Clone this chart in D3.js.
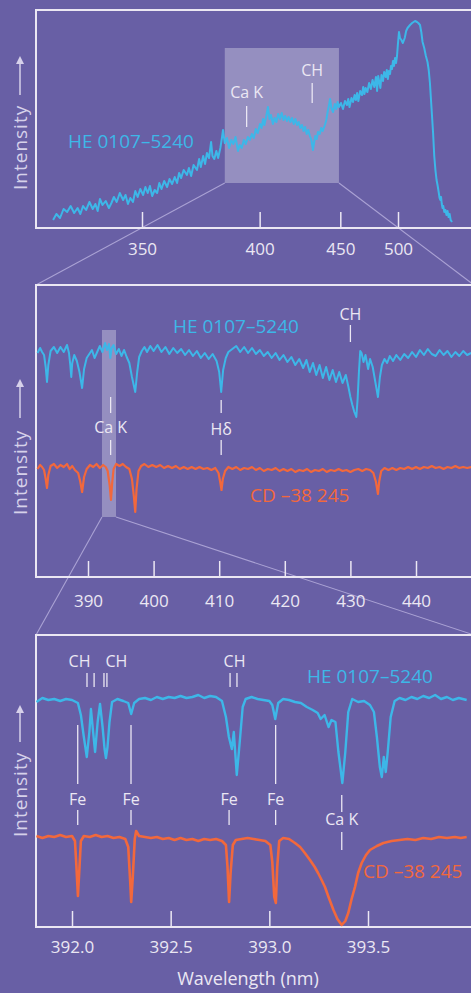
<!DOCTYPE html>
<html>
<head>
<meta charset="utf-8">
<script src="https://cdn.jsdelivr.net/npm/d3@7"></script>
<style>
  body { margin: 0; background: #685fa5; }
  svg { display: block; }
  text { font-family: "Open Sans", sans-serif; }
</style>
</head>
<body>
<div id="chart"></div>
<script>
// Low resolution spectrum of HE 0107-5240, [wavelength nm, intensity].
var heOverview = [
  [322.6, 8], [323.5, 14], [324.5, 10], [325.5, 19], [326.5, 16], [327.5, 22], [328.5, 15],
  [329.5, 20], [330.3, 14], [331.1, 22], [332, 18], [333, 26], [334, 19], [334.8, 24],
  [335.5, 17], [336.2, 29], [337, 23], [338, 27], [339, 20], [339.8, 25], [340.6, 31],
  [341.5, 26], [342.5, 35], [343.6, 28], [344.4, 33], [345.2, 24], [346, 30], [346.9, 26],
  [347.7, 37], [348.5, 31], [349.4, 39], [350.4, 33], [351.2, 41], [352, 35], [352.8, 42],
  [353.6, 32], [354.5, 38], [355.4, 35], [356.2, 45], [357, 39], [358, 47], [359.1, 41],
  [360, 49], [361, 44], [362, 51], [362.9, 45], [363.7, 55], [364.5, 50], [365.5, 58],
  [366.8, 53], [367.6, 60], [368.5, 52], [369.5, 63], [370.9, 58], [371.8, 69], [372.5, 61],
  [373.5, 72], [374.3, 64], [375.1, 75], [376, 70], [376.9, 86], [377.5, 72], [378.3, 69],
  [379.2, 77], [380, 70], [381, 80], [381.7, 90], [382.2, 98], [383, 85], [384, 90],
  [385, 80], [386, 88], [387, 84], [388, 91], [389.2, 77], [390, 83], [391, 80], [392, 88],
  [393, 84], [394, 91], [395, 88], [396, 94], [397, 90], [398, 99], [399, 95], [400.2, 104],
  [401, 100], [401.8, 109], [402.5, 103], [403.3, 110], [404.4, 121], [405.2, 109], [406, 113],
  [407.1, 104], [408, 110], [409, 106], [410, 114], [411, 109], [412, 115], [413, 108],
  [414, 112], [415, 107], [416, 111], [417, 106], [418, 110], [419, 104], [420, 109],
  [421, 103], [422, 106], [423, 100], [424, 103], [425, 97], [426, 101], [427, 94], [428, 98],
  [429, 92], [430, 88], [431, 78], [431.8, 86], [432.5, 92], [433.5, 89], [434.3, 96],
  [435.5, 94], [436.5, 100], [437.5, 97], [439, 103], [440, 108], [441, 117], [442, 124],
  [442.6, 129], [443.5, 120], [444.7, 116], [446, 124], [447, 119], [448, 126], [449, 121],
  [450.5, 125], [452, 119], [453.5, 127], [455, 123], [456, 129], [457, 121], [458.5, 130],
  [459.7, 126], [461, 133], [462, 128], [463, 135], [464, 127], [465.5, 137], [467, 133],
  [468, 141], [469, 134], [470, 140], [471.5, 136], [473, 145], [474.5, 139], [476, 148],
  [477.5, 141], [479, 151], [480, 137], [481, 152], [482, 146], [483, 140], [484, 153],
  [485.4, 147], [486.5, 156], [488, 151], [489, 158], [490, 149], [491, 157], [492.1, 154],
  [493, 162], [494, 159], [495, 167], [496, 162], [497, 170], [498, 165], [499, 172],
  [500, 185], [501, 196], [502, 190], [503.5, 188], [505, 185], [507, 190], [508.5, 197],
  [510, 200], [512.7, 203], [515, 205], [518.3, 207], [520.5, 206], [522, 205], [524, 203],
  [525.5, 196], [527, 186], [529, 180], [531, 172], [533, 166], [534.5, 158], [536, 145],
  [538, 120], [540, 95], [541.5, 72], [543, 58], [544.5, 48], [546, 42], [547.5, 35],
  [548.5, 30], [549.5, 28], [550.5, 31], [551.5, 24], [552.5, 20], [553.5, 22], [555, 16],
  [556.5, 18], [558, 13], [559.5, 17], [561, 11], [562.5, 14], [564, 8], [566, 6]
];

// Medium resolution, 382-448 nm.
var heMid = [
  [382.3, 224], [382.7, 229], [383.0, 225], [383.3, 222], [383.55, 210], [383.75, 195], [383.95, 212],
  [384.3, 226], [384.8, 230], [385.3, 224], [385.8, 230], [386.3, 225], [386.8, 232], [387.1, 224],
  [387.3, 212], [387.45, 200], [387.6, 214], [387.9, 222], [388.3, 216], [388.7, 205], [389.1, 189],
  [389.4, 208], [389.8, 219], [390.2, 223], [390.6, 227], [391.0, 219], [391.4, 225], [391.8, 231],
  [392.2, 225], [392.6, 234], [392.9, 227], [393.2, 233], [393.4, 219], [393.6, 229], [393.9, 232],
  [394.3, 223], [394.7, 228], [395.1, 221], [395.5, 227], [395.9, 220], [396.3, 214], [396.7, 200],
  [397.2, 185], [397.5, 205], [397.8, 220], [398.2, 226], [398.6, 230], [399.0, 225], [399.5, 231],
  [400.0, 226], [400.6, 232], [401.2, 225], [401.8, 230], [402.4, 223], [403.0, 229], [403.6, 224],
  [404.2, 228], [404.8, 222], [405.4, 227], [406.0, 221], [406.6, 226], [407.2, 219], [407.8, 224],
  [408.4, 218], [409.0, 223], [409.6, 216], [410.0, 205], [410.3, 185], [410.6, 207], [411.0, 219],
  [411.4, 225], [412.0, 228], [412.6, 231], [413.2, 225], [413.8, 230], [414.4, 224], [415.0, 229],
  [415.6, 223], [416.2, 227], [416.8, 221], [417.4, 225], [418.0, 219], [418.6, 224], [419.2, 217],
  [419.8, 222], [420.4, 215], [421.0, 220], [421.6, 212], [422.2, 218], [422.8, 209], [423.3, 217],
  [423.8, 205], [424.3, 214], [424.8, 202], [425.3, 212], [425.8, 199], [426.3, 210], [426.8, 197],
  [427.3, 207], [427.8, 195], [428.3, 205], [428.8, 194], [429.3, 202], [429.7, 190], [430.0, 180],
  [430.3, 172], [430.6, 165], [430.9, 160], [431.1, 178], [431.3, 205], [431.5, 226], [431.7, 224],
  [432.0, 215], [432.3, 222], [432.7, 208], [433.0, 218], [433.4, 210], [433.8, 195], [434.2, 180],
  [434.5, 200], [434.8, 212], [435.2, 218], [435.6, 214], [436.0, 221], [436.5, 216], [437.0, 222],
  [437.6, 217], [438.2, 223], [438.8, 219], [439.4, 225], [440.0, 220], [440.6, 227], [441.2, 222],
  [441.8, 228], [442.4, 223], [443.0, 221], [443.6, 227], [444.2, 222], [444.8, 226], [445.4, 220],
  [446.0, 225], [446.6, 221], [447.2, 226], [447.8, 222], [448.4, 224]
];

var cdMid = [
  [382.3, 108], [382.7, 112], [383.0, 110], [383.3, 107], [383.55, 98], [383.75, 89], [383.95, 102],
  [384.3, 111], [384.8, 113], [385.3, 109], [385.8, 112], [386.3, 110], [386.8, 113], [387.2, 108],
  [387.6, 111], [388.0, 107], [388.5, 104], [388.8, 96], [389.1, 85], [389.4, 100], [389.8, 108],
  [390.3, 112], [390.8, 110], [391.3, 113], [391.8, 109], [392.3, 112], [392.7, 110], [393.0, 106],
  [393.3, 92], [393.5, 77], [393.7, 95], [393.9, 108], [394.3, 113], [394.8, 111], [395.3, 113],
  [395.8, 110], [396.3, 108], [396.7, 98], [397.0, 80], [397.2, 65], [397.4, 88], [397.7, 106],
  [398.1, 111], [398.6, 113], [399.2, 110], [399.8, 112], [400.4, 110], [401.0, 112], [401.6, 109],
  [402.2, 111], [402.8, 109], [403.4, 111], [404.0, 108], [404.6, 110], [405.2, 108], [405.8, 110],
  [406.4, 108], [407.0, 110], [407.6, 108], [408.2, 109], [408.8, 107], [409.4, 109], [409.9, 104],
  [410.15, 95], [410.35, 87], [410.55, 98], [410.9, 106], [411.4, 110], [412.0, 108], [412.6, 110],
  [413.2, 107], [413.8, 109], [414.4, 108], [415.0, 110], [415.6, 107], [416.2, 109], [416.8, 106],
  [417.4, 108], [418.0, 107], [418.6, 109], [419.2, 106], [419.8, 108], [420.4, 106], [421.0, 108],
  [421.6, 105], [422.2, 107], [422.8, 106], [423.4, 108], [424.0, 105], [424.6, 107], [425.2, 106],
  [425.8, 108], [426.4, 105], [427.0, 107], [427.6, 106], [428.2, 108], [428.8, 106], [429.4, 107],
  [430.0, 105], [430.6, 107], [431.2, 108], [431.8, 106], [432.4, 108], [433.0, 107], [433.5, 104],
  [433.9, 95], [434.2, 83], [434.4, 96], [434.7, 106], [435.2, 109], [435.8, 107], [436.4, 109],
  [437.0, 107], [437.6, 109], [438.2, 108], [438.8, 110], [439.4, 108], [440.0, 110], [440.6, 108],
  [441.2, 110], [441.8, 109], [442.4, 111], [443.0, 109], [443.6, 110], [444.2, 108], [444.8, 110],
  [445.4, 109], [446.0, 111], [446.6, 109], [447.2, 110], [447.8, 109], [448.4, 110]
];

// High resolution, around Ca K.
var heZoom = [
  [391.82, 225], [391.85, 229], [391.88, 227], [391.91, 228], [391.94, 226], [391.97, 228], [392.0, 227],
  [392.03, 224], [392.045, 212], [392.06, 190], [392.075, 170], [392.088, 195], [392.096, 218],
  [392.107, 195], [392.117, 175], [392.13, 205], [392.142, 223], [392.155, 200], [392.165, 178],
  [392.172, 169], [392.18, 180], [392.19, 205], [392.203, 225], [392.23, 228], [392.26, 226],
  [392.285, 224], [392.3, 213], [392.315, 224], [392.34, 228], [392.37, 229], [392.4, 227],
  [392.43, 230], [392.46, 228], [392.49, 230], [392.52, 229], [392.55, 231], [392.58, 229],
  [392.61, 230], [392.64, 232], [392.67, 229], [392.7, 231], [392.73, 230], [392.76, 226],
  [392.78, 210], [392.795, 190], [392.81, 178], [392.82, 195], [392.835, 152], [392.85, 185],
  [392.865, 220], [392.88, 228], [392.91, 230], [392.94, 228], [392.97, 227], [393.0, 226],
  [393.015, 222], [393.03, 208], [393.045, 224], [393.07, 228], [393.1, 227], [393.13, 225],
  [393.16, 224], [393.19, 220], [393.22, 217], [393.245, 214], [393.26, 208], [393.28, 212],
  [393.3, 200], [393.315, 207], [393.335, 205], [393.35, 175], [393.37, 144], [393.385, 175],
  [393.4, 215], [393.42, 228], [393.45, 225], [393.48, 226], [393.51, 222], [393.53, 215],
  [393.545, 190], [393.56, 160], [393.57, 150], [393.58, 170], [393.59, 155], [393.6, 175],
  [393.615, 210], [393.635, 226], [393.66, 229], [393.69, 227], [393.72, 230], [393.75, 228],
  [393.78, 231], [393.81, 229], [393.84, 232], [393.87, 228], [393.9, 230], [393.93, 227],
  [393.96, 229], [394.0, 227]
];

var cdZoom = [
  [391.82, 91], [391.85, 89], [391.88, 91], [391.91, 90], [391.94, 92], [391.97, 90], [392.0, 91],
  [392.015, 86], [392.022, 62], [392.03, 31], [392.038, 60], [392.045, 86], [392.06, 91],
  [392.09, 90], [392.12, 92], [392.15, 90], [392.18, 91], [392.21, 89], [392.24, 90], [392.27, 88],
  [392.285, 80], [392.295, 45], [392.3, 25], [392.308, 50], [392.318, 88], [392.325, 96],
  [392.34, 91], [392.37, 90], [392.4, 89], [392.43, 90], [392.46, 88], [392.49, 89], [392.52, 87],
  [392.55, 89], [392.58, 87], [392.61, 88], [392.64, 86], [392.67, 88], [392.7, 87], [392.73, 88],
  [392.76, 86], [392.78, 82], [392.788, 60], [392.796, 25], [392.804, 55], [392.815, 82],
  [392.83, 87], [392.86, 88], [392.89, 89], [392.92, 88], [392.95, 87], [392.98, 86],
  [393.005, 82], [393.015, 65], [393.025, 30], [393.033, 24], [393.04, 60], [393.05, 86],
  [393.07, 89], [393.1, 88], [393.13, 84], [393.156, 80], [393.18, 74], [393.206, 67],
  [393.23, 60], [393.247, 54], [393.265, 47], [393.282, 40], [393.3, 30], [393.325, 17],
  [393.345, 8], [393.367, 2], [393.385, 6], [393.4, 14], [393.417, 28], [393.434, 40],
  [393.45, 54], [393.468, 64], [393.49, 72], [393.51, 77], [393.545, 81], [393.578, 84],
  [393.62, 86], [393.66, 87], [393.7, 88], [393.74, 87], [393.78, 89], [393.82, 88],
  [393.86, 90], [393.9, 89], [393.94, 90], [393.97, 89], [394.0, 90]
];

var overviewTicks = [350, 400, 450, 500];
var midTicks = [390, 400, 410, 420, 430, 440];
var zoomTicks = [392.0, 392.5, 393.0, 393.5];

// Wavelength windows blown up in the next panel.
var midWindow = [383, 449];
var zoomWindow = [392.13, 394.27];

var starA = "HE 0107\u20135240";
var starB = "CD \u201338 245";

var cyan = "#3db7e8";
var red = "#f2683c";
var ink = "#ebe7f3";

var width = 471;
var height = 993;
var frameLeft = 36;
var frameRight = 474;

var svg = d3.select("#chart")
  .append("svg")
    .attr("width", width)
    .attr("height", height);

svg.append("rect")
  .attr("width", width)
  .attr("height", height)
  .attr("fill", "#685fa5");

function translate(x, y) {
  return "translate(" + x + ", " + y + ")";
}

// Scales for each panel. The top one is a prism spectrum, so roughly 1/lambda^2.
var x1 = d3.scalePow().exponent(-2).domain([350, 500]).range([142, 398]);
var y1 = d3.scaleLinear().domain([0, 218]).range([228, 10]);
var x2 = d3.scaleLinear().domain([390, 440]).range([88, 416]);
var y2 = d3.scaleLinear().domain([0, 292]).range([577, 285]);
var x3 = d3.scaleLinear().domain([392, 393.5]).range([72, 368]);
var y3 = d3.scaleLinear().domain([0, 292]).range([927, 635]);

// Connector lines between the panels.
var connectors = svg.append("g")
  .attr("stroke", "#aaa2d4")
  .attr("stroke-width", 1.1);

connectors.append("line")
  .attr("x1", x1(midWindow[0])).attr("y1", y1(45))
  .attr("x2", frameLeft).attr("y2", y2.range()[1]);
connectors.append("line")
  .attr("x1", x1(midWindow[1])).attr("y1", y1(45))
  .attr("x2", frameRight).attr("y2", y2.range()[1]);
connectors.append("line")
  .attr("x1", x2(zoomWindow[0])).attr("y1", y2(60))
  .attr("x2", frameLeft).attr("y2", y3.range()[1]);
connectors.append("line")
  .attr("x1", x2(zoomWindow[1])).attr("y1", y2(60))
  .attr("x2", frameRight).attr("y2", y3.range()[1]);

// Shaded windows.
svg.append("rect")
  .attr("x", x1(midWindow[0]))
  .attr("y", y1(180))
  .attr("width", x1(midWindow[1]) - x1(midWindow[0]))
  .attr("height", y1(45) - y1(180))
  .attr("fill", "#fff")
  .attr("fill-opacity", 0.3);

svg.append("rect")
  .attr("x", x2(zoomWindow[0]))
  .attr("y", y2(247))
  .attr("width", x2(zoomWindow[1]) - x2(zoomWindow[0]))
  .attr("height", y2(60) - y2(247))
  .attr("fill", "#fff")
  .attr("fill-opacity", 0.3);

function drawFrame(y) {
  svg.append("rect")
    .attr("x", frameLeft)
    .attr("y", y.range()[1])
    .attr("width", frameRight - frameLeft)
    .attr("height", y.range()[0] - y.range()[1])
    .attr("fill", "none")
    .attr("stroke", ink)
    .attr("stroke-width", 2);
}

function drawAxis(x, y, ticks, fmt, pad) {
  var g = svg.append("g")
    .attr("transform", translate(0, y.range()[0]))
    .call(d3.axisBottom(x)
      .tickValues(ticks)
      .tickFormat(fmt)
      .tickSizeInner(-16)
      .tickSizeOuter(0)
      .tickPadding(pad));

  g.select(".domain").remove();
  g.selectAll(".tick line").attr("stroke", ink).attr("stroke-width", 1.5);
  g.selectAll(".tick text")
    .attr("fill", ink)
    .style("font-family", "'Open Sans', sans-serif")
    .style("font-size", "17px");
}

function drawSpectrum(data, x, y, color, w) {
  var line = d3.line()
    .x(function (d) { return x(d[0]); })
    .y(function (d) { return y(d[1]); });

  svg.append("path")
    .datum(data)
    .attr("d", line)
    .attr("fill", "none")
    .attr("stroke", color)
    .attr("stroke-width", w)
    .attr("stroke-linejoin", "round");
}

function label(x, y, text, color, size, anchor) {
  svg.append("text")
    .attr("x", x)
    .attr("y", y)
    .attr("fill", color)
    .attr("text-anchor", anchor || "middle")
    .style("font-size", size + "px")
    .text(text);
}

// Short vertical marker lines, each [y1, y2].
function marker(x, spans) {
  spans.forEach(function (s) {
    svg.append("line")
      .attr("x1", x).attr("x2", x)
      .attr("y1", s[0]).attr("y2", s[1])
      .attr("stroke", ink)
      .attr("stroke-width", 1.3);
  });
}

function intensityLabel(yBottom, a0, a1) {
  var g = svg.append("g")
    .attr("transform", translate(27, yBottom) + " rotate(-90)");

  g.append("text")
    .attr("fill", "#d6d1ea")
    .style("font-size", "19px")
    .style("letter-spacing", "1px")
    .text("Intensity");

  g.append("line")
    .attr("x1", a0).attr("x2", a1 - 5)
    .attr("y1", -7).attr("y2", -7)
    .attr("stroke", "#d6d1ea")
    .attr("stroke-width", 1.5);

  g.append("path")
    .attr("d", "M" + a1 + ",-7 L" + (a1 - 8) + ",-11 L" + (a1 - 8) + ",-3 Z")
    .attr("fill", "#d6d1ea");
}

// Panel 1: overview
drawFrame(y1);
drawAxis(x1, y1, overviewTicks, d3.format("d"), 15);
drawSpectrum(heOverview, x1, y1, cyan, 2);
label(68, 148, starA, cyan, 19, "start");
label(x1(393.4), 98, "Ca K", ink, 16);
marker(x1(393.4), [[106, 127]]);
label(x1(430.5), 76, "CH", ink, 16);
marker(x1(430.5), [[83, 103]]);
intensityLabel(190, 95, 134);

// Panel 2: medium resolution
drawFrame(y2);
drawAxis(x2, y2, midTicks, d3.format("d"), 18);
drawSpectrum(heMid, x2, y2, cyan, 2);
drawSpectrum(cdMid, x2, y2, red, 2.2);
label(173, 333, starA, cyan, 19, "start");
label(250, 502, starB, red, 19, "start");
label(x2(430), 320, "CH", ink, 16);
marker(x2(430), [[325, 342]]);
label(x2(393.45), 433, "Ca K", ink, 16);
marker(x2(393.45), [[397, 413], [440, 455]]);
label(x2(410.3), 435, "H\u03b4", ink, 16);
marker(x2(410.3), [[400, 413], [440, 455]]);
intensityLabel(515, 97, 136);

// Panel 3: high resolution
drawFrame(y3);
drawAxis(x3, y3, zoomTicks, d3.format(".1f"), 14);
drawSpectrum(heZoom, x3, y3, cyan, 2.4);
drawSpectrum(cdZoom, x3, y3, red, 2.6);
label(307, 683, starA, cyan, 19, "start");
label(363, 878, starB, red, 19, "start");

var chPairs = [[392.076, 392.112], [392.162, 392.177], [392.801, 392.836]];
var chOffsets = [-11, 11, 1];
chPairs.forEach(function (p, i) {
  marker(x3(p[0]), [[673, 687]]);
  marker(x3(p[1]), [[673, 687]]);
  label((x3(p[0]) + x3(p[1])) / 2 + chOffsets[i], 667, "CH", ink, 16);
});

var feLines = [392.029, 392.299, 392.796, 393.032];
feLines.forEach(function (w, i) {
  var spans = [[810, 825]];
  if (i != 2) spans.push([725, 784]);
  marker(x3(w), spans);
  label(x3(w), 805, "Fe", ink, 16);
});

label(x3(393.367), 825, "Ca K", ink, 16);
marker(x3(393.367), [[795, 812], [832, 850]]);

intensityLabel(837, 95, 132);

label(248, 985, "Wavelength (nm)", ink, 18);
</script>
</body>
</html>
